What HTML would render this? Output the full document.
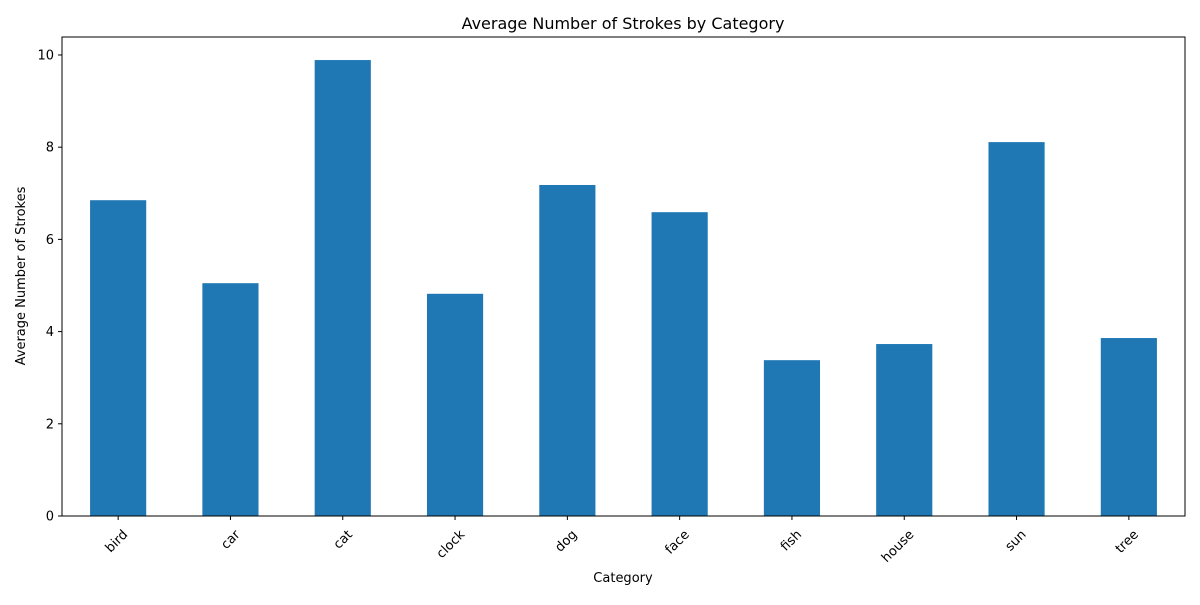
<!DOCTYPE html>
<html><head><meta charset="utf-8"><style>
body{margin:0;background:#fff;font-family:"Liberation Sans","DejaVu Sans",sans-serif}
svg text{font-family:"DejaVu Sans","Liberation Sans",sans-serif;fill:#000}
</style></head><body>
<svg id="chart" width="1200" height="600" xmlns="http://www.w3.org/2000/svg">
<text x="623" y="29" font-size="16" text-anchor="middle">Average Number of Strokes by Category</text>
<text x="623" y="582" font-size="13" text-anchor="middle">Category</text>
<text transform="translate(25,276) rotate(-90)" font-size="13" text-anchor="middle">Average Number of Strokes</text>
<g id="bars"></g><g id="axes"></g>
</svg>
<script>
const categories=["bird","car","cat","clock","dog","face","fish","house","sun","tree"];
const values=[6.85,5.05,9.89,4.82,7.18,6.59,3.38,3.73,8.11,3.86];
const yTicks=[0,2,4,6,8,10];
const L=62,R=1185,T=37,B=516,yMax=10.39;
const ns="http://www.w3.org/2000/svg";
const y=v=>B-(v/yMax)*(B-T);
const step=(R-L)/categories.length;
const x=i=>L+step*(i+0.5);
const bars=document.getElementById('bars'),axes=document.getElementById('axes');
function mk(t,a,p){const e=document.createElementNS(ns,t);for(const k in a)e.setAttribute(k,a[k]);p.appendChild(e);return e;}
categories.forEach((c,i)=>{
 const r=mk('rect',{x:x(i)-step*0.25,y:y(values[i]),width:step*0.5,height:B-y(values[i]),fill:'#1f77b4'},bars);
 
 
 mk('line',{x1:x(i),x2:x(i),y1:B,y2:B+4,stroke:'#000','stroke-width':1},axes);
 const t=mk('text',{transform:`translate(${x(i)+4},${B+13}) rotate(-45)`,'font-size':13,'text-anchor':'end','dominant-baseline':'hanging'},axes);
 t.textContent=c;
 
 
});
yTicks.forEach(v=>{
 mk('line',{x1:L-4,x2:L,y1:y(v),y2:y(v),stroke:'#000','stroke-width':1},axes);
 const t=mk('text',{x:L-8,y:y(v)+4.5,'font-size':13,'text-anchor':'end'},axes);
 t.textContent=v;
 
 
});
const f=mk('rect',{x:L,y:T,width:R-L,height:B-T,fill:'none',stroke:'#000','stroke-width':1},axes);


</script>
</body></html>
